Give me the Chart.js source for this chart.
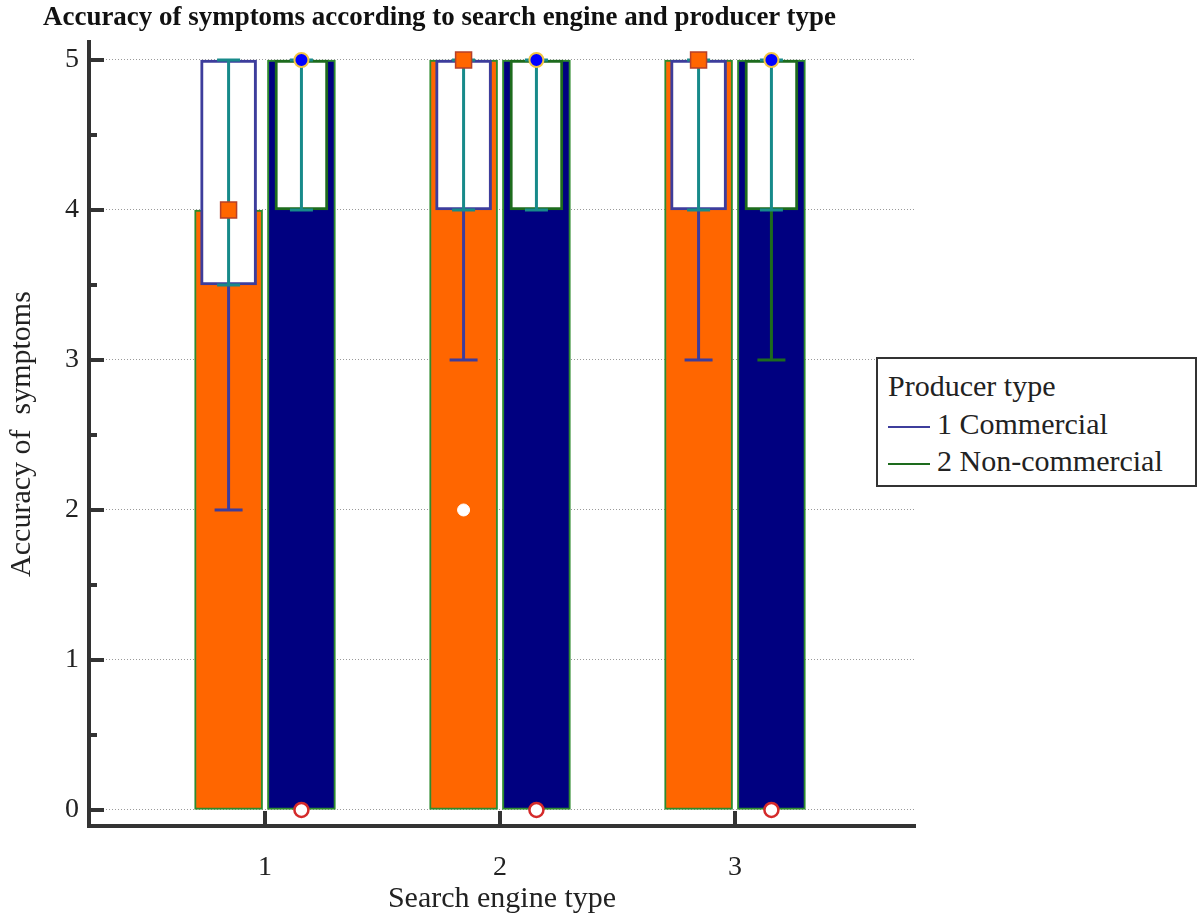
<!DOCTYPE html>
<html>
<head>
<meta charset="utf-8">
<script src="https://cdn.jsdelivr.net/npm/chart.js@4.4.0/dist/chart.umd.min.js"></script>
<style>
  body { margin: 0; background: #fff; }
  #wrap { position: relative; width: 1203px; height: 917px; }
  #title {
    position: absolute; left: 43px; top: 1px;
    font: bold 27px "Liberation Serif"; color: #111;
    white-space: nowrap; transform-origin: 0 0;
  }
  #legend {
    position: absolute; left: 876px; top: 357px;
    width: 321px; height: 130px; border: 2px solid #333; background: #fff;
    font: 30px "Liberation Serif"; color: #222; padding: 8px 0 0 10px; box-sizing: border-box;
  }
  #legend .row { height: 37.5px; line-height: 37.5px; white-space: nowrap; }
  #legend .swatch { display: inline-block; width: 42px; height: 2px; vertical-align: middle; margin-right: 7px; }
</style>
</head>
<body>
<div id="wrap">
  <canvas id="chart" width="1203" height="917"></canvas>
  <div id="title">Accuracy of symptoms according to search engine and producer type</div>
  <div id="legend"></div>
</div>
<script>
// ==========================
// DATA
// ==========================
const categories = [1, 2, 3]; // search engine type
const yTickValues = [0, 1, 2, 3, 4, 5];
const producerTypes = ["1 Commercial", "2 Non-commercial"];

// commercial
const comMedian = [4, 5, 5];
const comQ1 = [3.5, 4, 4];
const comQ3 = [5, 5, 5];
const comMin = [2, 3, 3];
const comMax = [5, 5, 5];
const comOutliers = [[], [2], []];

// non-commercial
const nonMedian = [5, 5, 5];
const nonQ1 = [4, 4, 4];
const nonQ3 = [5, 5, 5];
const nonMin = [4, 4, 3];
const nonMax = [5, 5, 5];
const nonOutliers = [[0], [0], [0]];

// ==========================
// COLOURS
// ==========================
const orange = "#ff6600";
const navy = "#000080";
const barEdge = "#2e8b2e";
const comEdge = "#3d3d9c";
const nonEdge = "#1d6b1d";
const teal = "#178a8a";

const OFF = 0.155; // half group offset, in category units

// ==========================
// HELPERS
// ==========================
const points = (off, vals) => categories.map((c, i) => ({ x: c + off, y: vals[i] }));
const ranges = (off, lo, hi) => categories.map((c, i) => ({ x: c + off, y: [lo[i], hi[i]] }));

function segments(off, lo, hi) {
  const out = [];
  categories.forEach((c, i) => {
    if (hi[i] > lo[i]) out.push({ x: c + off, y: lo[i] }, { x: c + off, y: hi[i] }, { x: c + off, y: null });
  });
  return out;
}
function lowCaps(off, lo, q1) {
  const out = [];
  categories.forEach((c, i) => { if (lo[i] < q1[i]) out.push({ x: c + off, y: lo[i] }); });
  return out;
}
function outlierPoints(off, list) {
  const out = [];
  categories.forEach((c, i) => list[i].forEach((v) => out.push({ x: c + off, y: v })));
  return out;
}

// ==========================
// DATASETS
// ==========================
const datasets = [
  // median bars
  { type: "bar", data: points(-OFF, comMedian), backgroundColor: orange, borderColor: barEdge, borderWidth: 2, barThickness: 68, grouped: false, borderSkipped: false, order: 20 },
  { type: "bar", data: points(OFF, nonMedian), backgroundColor: navy, borderColor: barEdge, borderWidth: 2, barThickness: 68, grouped: false, borderSkipped: false, order: 20 },
  // boxes
  { type: "bar", data: ranges(-OFF, comQ1, comQ3), backgroundColor: "#fff", borderColor: comEdge, borderWidth: 3, barThickness: 56, grouped: false, borderSkipped: false, order: 18 },
  { type: "bar", data: ranges(OFF, nonQ1, nonQ3), backgroundColor: "#fff", borderColor: nonEdge, borderWidth: 3, barThickness: 53, grouped: false, borderSkipped: false, order: 18 },
  // lower whiskers
  { type: "line", data: segments(-OFF, comMin, comQ1), borderColor: comEdge, borderWidth: 3, pointRadius: 0, spanGaps: false, order: 16 },
  { type: "line", data: segments(OFF, nonMin, nonQ1), borderColor: nonEdge, borderWidth: 3, pointRadius: 0, spanGaps: false, order: 16 },
  { type: "scatter", data: lowCaps(-OFF, comMin, comQ1), pointStyle: "line", radius: 14, borderColor: comEdge, borderWidth: 3, order: 15 },
  { type: "scatter", data: lowCaps(OFF, nonMin, nonQ1), pointStyle: "line", radius: 14, borderColor: nonEdge, borderWidth: 3, order: 15 },
  // upper whiskers (above box)
  { type: "line", data: segments(-OFF, comQ3, comMax), borderColor: comEdge, borderWidth: 3, pointRadius: 0, spanGaps: false, order: 16 },
  { type: "line", data: segments(OFF, nonQ3, nonMax), borderColor: nonEdge, borderWidth: 3, pointRadius: 0, spanGaps: false, order: 16 },
  // teal inner range
  { type: "line", data: segments(-OFF, comQ1, comQ3), borderColor: teal, borderWidth: 3, pointRadius: 0, spanGaps: false, order: 12 },
  { type: "line", data: segments(OFF, nonQ1, nonQ3), borderColor: teal, borderWidth: 3, pointRadius: 0, spanGaps: false, order: 12 },
  { type: "scatter", data: points(-OFF, comQ1).concat(points(-OFF, comQ3)), pointStyle: "line", radius: 11.5, borderColor: teal, borderWidth: 3, order: 11 },
  { type: "scatter", data: points(OFF, nonQ1).concat(points(OFF, nonQ3)), pointStyle: "line", radius: 11.5, borderColor: teal, borderWidth: 3, order: 11 },
  // outliers
  { type: "scatter", data: outlierPoints(-OFF, comOutliers), pointStyle: "circle", radius: 6, backgroundColor: "#fff", borderColor: "#fff", borderWidth: 1, order: 5 },
  { type: "scatter", data: outlierPoints(OFF, nonOutliers), pointStyle: "circle", radius: 7, backgroundColor: "#fff", borderColor: "#d42a2a", borderWidth: 2.5, order: 5 },
  // median markers
  { type: "scatter", data: points(-OFF, comMedian), pointStyle: "rect", radius: 11.3, backgroundColor: orange, borderColor: "#b5402a", borderWidth: 1.5, order: 2 },
  { type: "scatter", data: points(OFF, nonMedian), pointStyle: "circle", radius: 7, backgroundColor: "#0000ff", borderColor: "#f2c544", borderWidth: 2, order: 2 },
];

// ==========================
// INWARD TICK MARKS
// ==========================
const inwardTicks = {
  id: "inwardTicks",
  afterDatasetsDraw(chart) {
    const { ctx, chartArea, scales: { x, y } } = chart;
    ctx.save();
    ctx.strokeStyle = "#333";
    ctx.lineWidth = 4;
    ctx.beginPath();
    yTickValues.forEach((v) => {
      const py = Math.round(y.getPixelForValue(v));
      ctx.moveTo(chartArea.left, py);
      ctx.lineTo(chartArea.left + 15, py);
      if (v < 5) {
        const pm = Math.round(y.getPixelForValue(v + 0.5));
        ctx.moveTo(chartArea.left, pm);
        ctx.lineTo(chartArea.left + 8, pm);
      }
    });
    categories.forEach((c) => {
      const px = Math.round(x.getPixelForValue(c));
      ctx.moveTo(px, chartArea.bottom);
      ctx.lineTo(px, chartArea.bottom - 15);
    });
    ctx.stroke();
    ctx.restore();
  },
};

const serif = "'Liberation Serif', 'Times New Roman', serif";

new Chart(document.getElementById("chart"), {
  type: "bar",
  data: { datasets },
  options: {
    responsive: false,
    animation: false,
    events: [],
    layout: { padding: { left: 0, top: 42, right: 288, bottom: 0 } },
    plugins: { legend: { display: false }, tooltip: { enabled: false } },
    scales: {
      x: {
        type: "linear",
        min: 0.251,
        max: 3.766,
        offset: false,
        grid: { offset: false, drawOnChartArea: false, drawTicks: false },
        border: { color: "#333", width: 4 },
        ticks: { stepSize: 1, includeBounds: false, padding: 25, color: "#222", font: { family: serif, size: 28 } },
        title: { display: true, text: "Search engine type", color: "#222", font: { family: serif, size: 30 }, padding: { top: 0, bottom: 0 } },
        afterFit: (scale) => { scale.height = 91; },
      },
      y: {
        type: "linear",
        min: -0.107,
        max: 5.12,
        grid: { color: "#9a9a9a", lineWidth: 1, drawTicks: false },
        border: { color: "#333", width: 4, dash: [1, 2] },
        ticks: { stepSize: 1, includeBounds: false, padding: 10, color: "#222", font: { family: serif, size: 28 } },
        title: { display: true, text: "Accuracy of  symptoms", color: "#222", font: { family: serif, size: 30 }, padding: { top: 4, bottom: 0 } },
        afterFit: (scale) => { scale.width = 89; },
      },
    },
  },
  plugins: [inwardTicks],
});

// ==========================
// LEGEND + TITLE
// ==========================
const legendEl = document.getElementById("legend");
legendEl.innerHTML =
  `<div class="row">Producer type</div>` +
  producerTypes.map((name, i) =>
    `<div class="row"><span class="swatch" style="background:${i === 0 ? comEdge : nonEdge}"></span>${name}</div>`
  ).join("");

const titleEl = document.getElementById("title");
const tw = titleEl.getBoundingClientRect().width;
titleEl.style.transform = `scaleX(${793 / tw})`;
</script>
</body>
</html>
